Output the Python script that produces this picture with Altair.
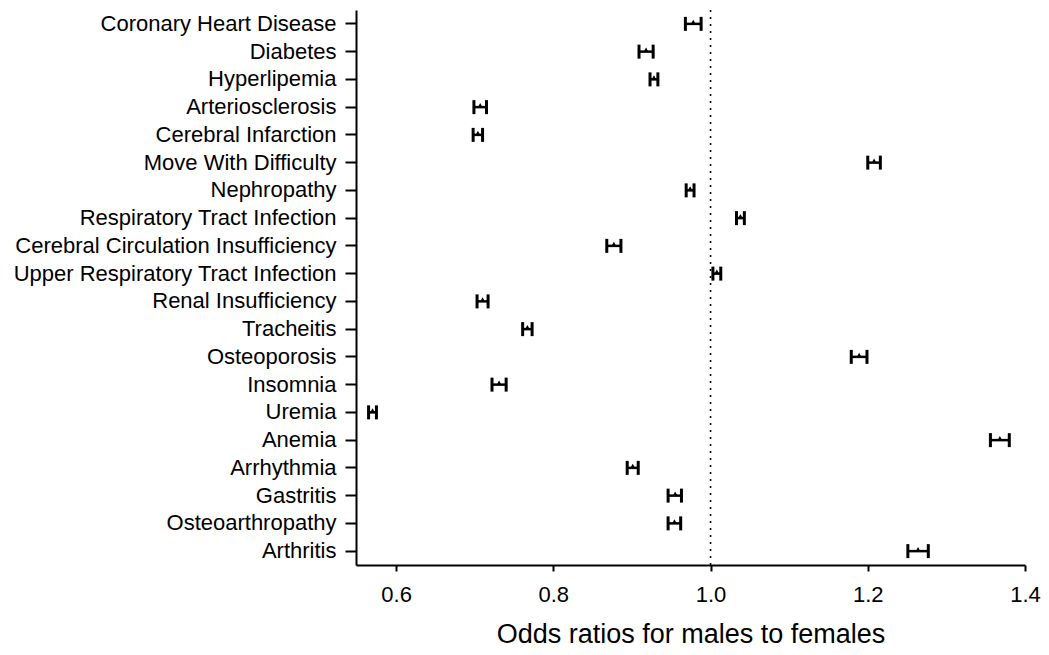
import altair as alt
import pandas as pd

categories = [
    "Coronary Heart Disease", "Diabetes", "Hyperlipemia", "Arteriosclerosis",
    "Cerebral Infarction", "Move With Difficulty", "Nephropathy",
    "Respiratory Tract Infection", "Cerebral Circulation Insufficiency",
    "Upper Respiratory Tract Infection", "Renal Insufficiency", "Tracheitis",
    "Osteoporosis", "Insomnia\u00a0", "Uremia", "Anemia", "Arrhythmia",
    "Gastritis", "Osteoarthropathy", "Arthritis",
]
odds_ratio = [0.978, 0.918, 0.928, 0.707, 0.704, 1.208, 0.974, 1.038, 0.877, 1.008,
              0.710, 0.767, 1.189, 0.731, 0.570, 1.368, 0.901, 0.955, 0.954, 1.264]
ci_low = [0.968, 0.909, 0.923, 0.699, 0.698, 1.200, 0.969, 1.033, 0.868, 1.003,
          0.703, 0.761, 1.179, 0.722, 0.565, 1.356, 0.894, 0.946, 0.946, 1.251]
ci_high = [0.988, 0.927, 0.933, 0.715, 0.710, 1.216, 0.979, 1.043, 0.886, 1.013,
           0.717, 0.773, 1.199, 0.740, 0.575, 1.380, 0.908, 0.963, 0.962, 1.277]
x_ticks = [0.6, 0.8, 1.0, 1.2, 1.4]
reference = [1.0]

df = pd.DataFrame({"cat": categories, "or": odds_ratio, "lo": ci_low, "hi": ci_high})
df_lo = pd.DataFrame({"cat": categories, "v": ci_low})
df_hi = pd.DataFrame({"cat": categories, "v": ci_high})
df_ref = pd.DataFrame({"v": reference})

xscale = alt.Scale(domain=[0.549, 1.4], nice=False, zero=False)
yenc = alt.Y("cat:N", sort=categories,
             axis=alt.Axis(title=None, labelFontSize=22, labelColor="black",
                           tickSize=11, tickWidth=2, tickColor="black",
                           domainColor="black", domainWidth=2, labelPadding=9,
                           labelLimit=400))
xaxis = alt.Axis(values=x_ticks, format=".1f", title="Odds ratios for males to females",
                 titleFontSize=27, titleFontWeight="normal", titleColor="black",
                 titlePadding=16, labelFontSize=22, labelColor="black", labelPadding=13,
                 tickSize=6, tickWidth=2, tickColor="black", domainColor="black",
                 domainWidth=2, grid=False, labelFlush=False)

ref = alt.Chart(df_ref).mark_rule(color="black", strokeWidth=1.6, strokeDash=[2, 5]).encode(
    x=alt.X("v:Q", scale=xscale, axis=xaxis)
)
rules = alt.Chart(df).mark_rule(color="black", strokeWidth=2.5).encode(
    x=alt.X("lo:Q", scale=xscale, axis=xaxis), x2="hi:Q", y=yenc
)
caps_lo = alt.Chart(df_lo).mark_tick(color="black", thickness=3, size=14, opacity=1).encode(
    x=alt.X("v:Q", scale=xscale, axis=xaxis), y=yenc
)
caps_hi = alt.Chart(df_hi).mark_tick(color="black", thickness=3, size=14, opacity=1).encode(
    x=alt.X("v:Q", scale=xscale, axis=xaxis), y=yenc
)
pts = alt.Chart(df).mark_point(shape="triangle-up", filled=True, color="black", size=22,
                               opacity=1, yOffset=-2).encode(
    x=alt.X("or:Q", scale=xscale, axis=xaxis), y=yenc
)

chart = alt.layer(ref, rules, caps_lo, caps_hi, pts).properties(
    width=669, height=555,
    autosize=alt.AutoSizeParams(type="none"),
    padding={"left": 348, "top": 2, "right": 16, "bottom": 82},
).configure(font="Liberation Sans").configure_view(strokeWidth=0, stroke="transparent")

chart.save("out.html", embed_options={"renderer": "svg", "actions": False})
